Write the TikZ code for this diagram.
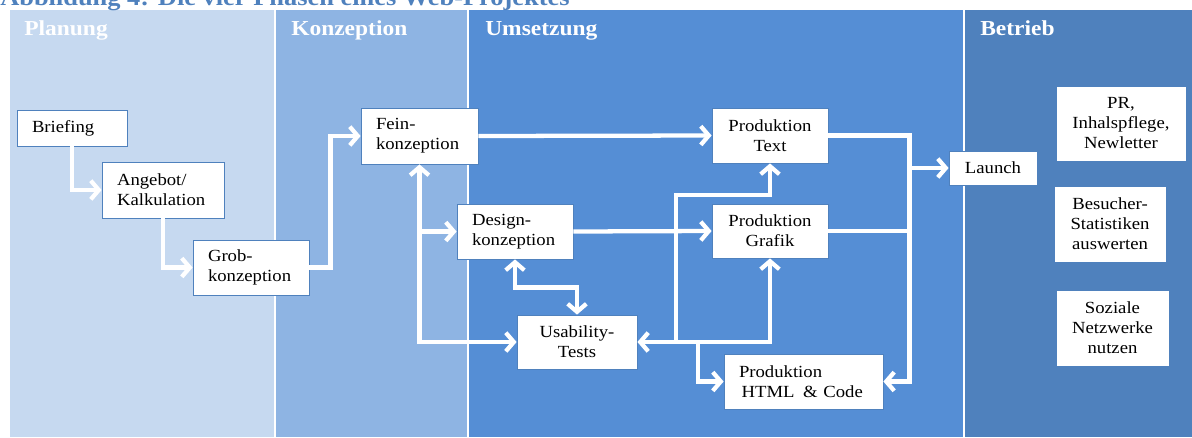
\documentclass[tikz,border=0pt]{standalone}
\usepackage{fontspec}
\setmainfont{Liberation Serif}[FakeStretch=1.1]
\usepackage{tikz}
\usetikzlibrary{positioning,arrows.meta}
\definecolor{planBlau}{HTML}{C6D9F0}
\definecolor{konzBlau}{HTML}{8EB4E3}
\definecolor{umsBlau}{HTML}{558ED5}
\definecolor{betrBlau}{HTML}{4F81BD}
\definecolor{titelBlau}{HTML}{4F81BD}
\tikzset{
    >={Straight Barb[length=6pt,width=14pt]},
    kasten/.style={
      rectangle,
      fill=white,
      draw=betrBlau, line width=0.6pt,
      inner sep=0pt,
      font=\fontsize{12.75}{15}\selectfont},
    links/.style 2 args={
      kasten,
      text width=#1,
      minimum height=#2,
      align=left,
      inner xsep=11.25pt},
    mitte/.style 2 args={
      kasten,
      minimum width=#1,
      minimum height=#2,
      align=center},
    phase/.style={anchor=base west, text=white, inner sep=0pt,
      font=\bfseries\fontsize{16}{18}\selectfont},
    pfeil/.style={draw=white, line width=3.2pt, ->},
    doppelpfeil/.style={draw=white, line width=3.2pt, <->},
    linie/.style={draw=white, line width=3.2pt},
}

\begin{document}
\begin{tikzpicture}[x=0.75pt, y=-0.75pt]
      \useasboundingbox (0,0) rectangle (1192,437);
      \clip (0,0) rectangle (1192,437);
      \fill[white] (0,0) rectangle (1192,437);
      % Phasen
      \fill[planBlau] (10,10) rectangle (274,437);
      \fill[konzBlau] (276,10) rectangle (467,437);
      \fill[umsBlau] (469,10) rectangle (963,437);
      \fill[betrBlau] (965,10) rectangle (1192,437);
      \node[anchor=base west, inner sep=0pt, text=titelBlau,
        font=\bfseries\fontsize{18}{20}\selectfont] (titel) at (0,5)
        {Abbildung 4: Die vier Phasen eines Web-Projektes};
      \node[phase] (planung)    at (24,35)  {Planung};
      \node[phase] (konzeption) at (291,35) {Konzeption};
      \node[phase] (umsetzung)  at (485,35) {Umsetzung};
      \node[phase] (betrieb)    at (980,35) {Betrieb};
      % Kaesten
      \node[links={60pt}{27pt}]       (briefing)   at (72,128)    {Briefing};
      \node[links={69pt}{42pt}]       (angebot)    at (163,190)   {Angebot/\\Kalkulation};
      \node[links={64.5pt}{41.25pt}]  (grobKonz)   at (251,267.5) {Grob-\\konzeption};
      \node[links={65.25pt}{42pt}]    (feinKonz)   at (419.5,136) {Fein-\\konzeption};
      \node[links={64.5pt}{41.25pt}]  (designKonz) at (515,231.5) {Design-\\konzeption};
      \node[mitte={87pt}{41.25pt}]    (prodText)   at (770,135.5) {Produktion\\Text};
      \node[mitte={87pt}{40.5pt}]     (prodGrafik) at (770,231)   {Produktion\\Grafik};
      \node[mitte={90pt}{40.5pt}]     (usabTests)  at (577,342)   {Usability-\\Tests};
      \node[links={96.75pt}{41.25pt}] (prodHtml)   at (803.5,381.5) {Produktion\\\hspace{2pt}HTML\enspace\&~Code};
      \node[mitte={66pt}{25.5pt}]     (launch)     at (993,168)   {Launch};
      \node[mitte={97.5pt}{56.25pt}]  (prPflege)   at (1121,123.5) {PR,\\Inhalspflege,\\Newletter};
      \node[mitte={84pt}{57pt}]       (besucherStat) at (1110,224) {Besucher-\\Statistiken\\auswerten};
      \node[mitte={84.75pt}{57pt}]    (sozialNetz) at (1112.5,328) {Soziale\\Netzwerke\\nutzen};
      % Verbindungen
      \draw[pfeil] (briefing.south) |- (angebot.west);
      \draw[pfeil] (angebot.south) |- (grobKonz.west);
      \draw[pfeil] (grobKonz.east) -- ++(21,0) |- (feinKonz.west);
      \draw[doppelpfeil] (feinKonz.south) |- (usabTests.west);
      \draw[pfeil] (feinKonz.south |- designKonz.west) -- (designKonz.west);
      \draw[pfeil] (feinKonz.east) -- (prodText.west);
      \draw[pfeil] (designKonz.east) -- (prodGrafik.west);
      \draw[doppelpfeil] (designKonz.south) -- ++(0,28) -| (usabTests.north);
      \draw[doppelpfeil] (usabTests.east) -| (prodGrafik.south);
      \coordinate (knotenA) at (676,342);
      \coordinate (knotenB) at (698,342);
      \draw[pfeil] (knotenA) -- ++(0,-147) -| (prodText.south);
      \draw[pfeil] (knotenB) |- (prodHtml.west);
      \draw[pfeil] (prodText.east) -- ++(81,0) |- (prodHtml.east);
      \coordinate (sammel) at (909,168);
      \draw[linie] (prodGrafik.east) -- (prodGrafik.east -| sammel);
      \draw[pfeil] (sammel) -- (launch.west);
\end{tikzpicture}
\end{document}
